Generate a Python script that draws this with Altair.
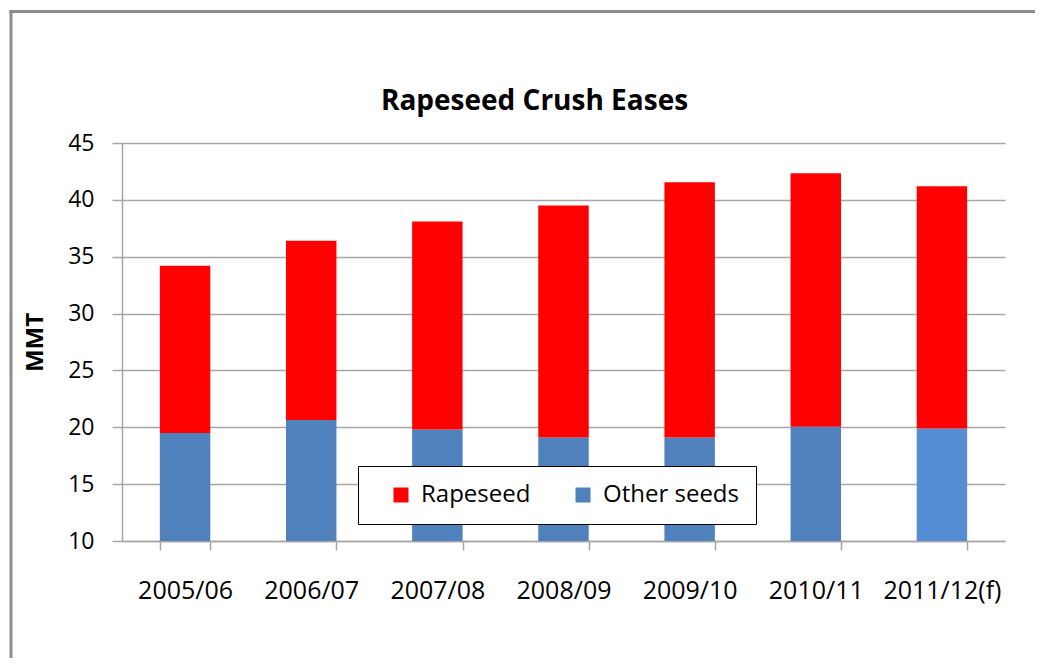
import altair as alt
import pandas as pd

seasons = ["2005/06", "2006/07", "2007/08", "2008/09", "2009/10", "2010/11", "2011/12(f)"]
other_seeds = [19.5, 20.65, 19.8, 19.1, 19.1, 20.05, 19.9]
rapeseed = [14.7, 15.75, 18.3, 20.4, 22.45, 22.3, 21.3]
series_names = ["Rapeseed", "Other seeds"]
forecast_name = "Other seeds (f)"
y_ticks = [10, 15, 20, 25, 30, 35, 40, 45]

rows = []
for i, s in enumerate(seasons):
    other_label = forecast_name if s.endswith("(f)") else "Other seeds"
    rows.append({"season": s, "series": other_label, "value": other_seeds[i], "stack_order": 0})
    rows.append({"season": s, "series": "Rapeseed", "value": rapeseed[i], "stack_order": 1})
df = pd.DataFrame(rows)

FONT = "Open Sans"
GRID = "#A6A6A6"
FRAME = "#8C8C8C"

bars = alt.Chart(df).mark_bar(clip=True).encode(
    x=alt.X(
        "season:N",
        sort=seasons,
        scale=alt.Scale(paddingInner=0.6, paddingOuter=0.3),
        axis=alt.Axis(
            title=None, labelAngle=0, tickBand="extent", grid=False,
            labelFont=FONT, labelFontSize=25, labelColor="black",
            labelPadding=28, tickSize=9, domainColor=GRID, tickColor=GRID,
            domainWidth=1.5, tickWidth=1.5,
        ),
    ),
    y=alt.Y(
        "value:Q",
        stack="zero",
        scale=alt.Scale(domain=[10, 45], nice=False, zero=False),
        axis=alt.Axis(
            values=y_ticks, title="MMT", titleFont=FONT, titleFontSize=24,
            titleFontWeight="bold", titleColor="black", titlePadding=20,
            labelFont=FONT, labelFontSize=23, labelColor="black",
            labelPadding=18, tickSize=10, grid=True, gridColor=GRID,
            gridWidth=1.5, domainColor=GRID, tickColor=GRID,
            domainWidth=1.5, tickWidth=1.5,
        ),
    ),
    color=alt.Color(
        "series:N",
        scale=alt.Scale(domain=series_names + [forecast_name],
                        range=["#FF0000", "#4F81BD", "#558ED5"]),
        legend=alt.Legend(
            values=series_names, title=None, orient="none",
            legendX=236, legendY=323, direction="horizontal",
            symbolType="square", symbolSize=225, symbolStrokeWidth=0,
            symbolOffset=14,
            labelFont=FONT, labelFontSize=24, labelColor="black",
            labelOffset=8, padding=17, columnPadding=26,
            strokeColor="black", fillColor="white",
        ),
    ),
    order=alt.Order("stack_order:Q", sort="ascending"),
)

one = pd.DataFrame({"a": [0]})
frame_top = alt.Chart(one).mark_rect(fill=FRAME, strokeWidth=0).encode(
    x=alt.value(-112.5), x2=alt.value(913), y=alt.value(-133), y2=alt.value(-130),
)
frame_left = alt.Chart(one).mark_rect(fill=FRAME, strokeWidth=0).encode(
    x=alt.value(-112.5), x2=alt.value(-109.5), y=alt.value(-133), y2=alt.value(515),
)

chart = alt.layer(frame_top, frame_left, bars).properties(
    width=883,
    height=398,
    title=alt.TitleParams(
        "Rapeseed Crush Eases", font=FONT, fontSize=28, fontWeight="bold",
        color="black", anchor="middle", dx=-29, dy=118, offset=12,
    ),
    autosize=alt.AutoSizeParams(type="none"),
    padding={"left": 114, "top": 135, "right": 30, "bottom": 117},
    background="white",
).configure_view(stroke=None)

chart.save("out.html", embed_options={"renderer": "svg", "actions": False})
